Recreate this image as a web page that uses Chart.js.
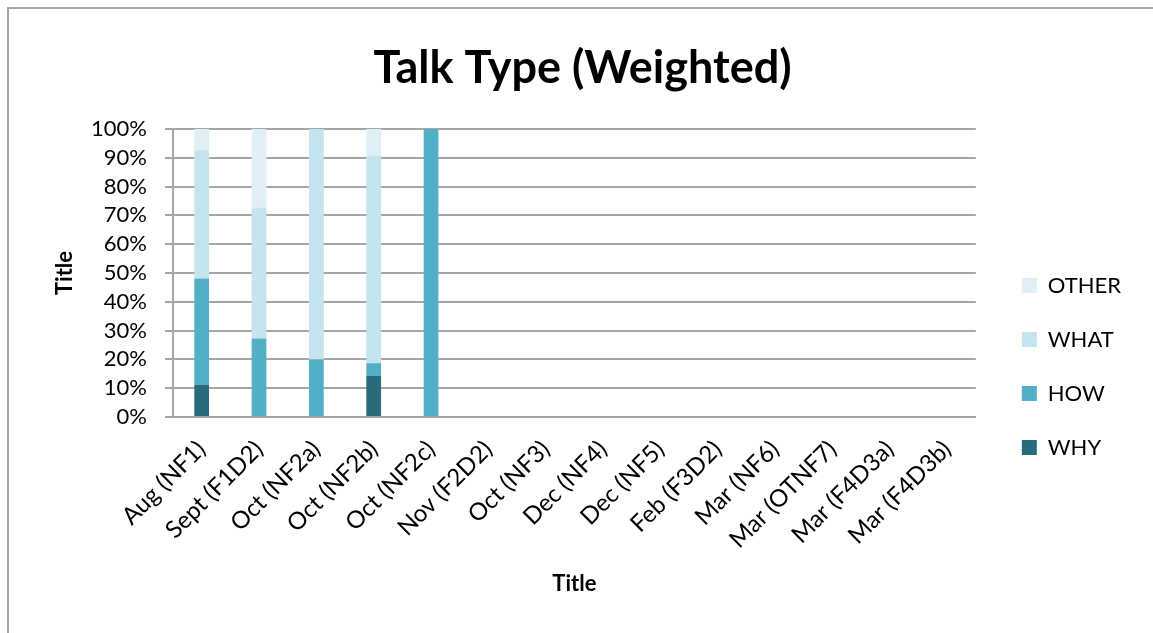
<!DOCTYPE html>
<html>
<head>
<meta charset="utf-8">
<title>Talk Type (Weighted)</title>
<script src="https://cdn.jsdelivr.net/npm/chart.js@4/dist/chart.umd.min.js"></script>
<style>
  html, body { margin: 0; padding: 0; background: #ffffff; overflow: hidden; }
  #frame {
    position: absolute; left: 7px; top: 7px; width: 1300px; height: 800px;
    border-left: 2px solid #a6a6a6; border-top: 2px solid #a6a6a6;
  }
  #wrap { position: absolute; left: 0; top: 0; width: 1153px; height: 633px; }
</style>
</head>
<body>
<div id="frame"></div>
<div id="wrap"><canvas id="chart" width="1153" height="633"></canvas></div>
<script>
// Sessions (x categories)
const categories = [
  'Aug (NF1)', 'Sept (F1D2)', 'Oct (NF2a)', 'Oct (NF2b)', 'Oct (NF2c)',
  'Nov (F2D2)', 'Oct (NF3)', 'Dec (NF4)', 'Dec (NF5)', 'Feb (F3D2)',
  'Mar (NF6)', 'Mar (OTNF7)', 'Mar (F4D3a)', 'Mar (F4D3b)'
];

// Share of talk per type, in percent of each session
const whyValues   = [11.1, 0,    0,    14.2, 0,   null, null, null, null, null, null, null, null, null];
const howValues   = [37.0, 27.3, 20.0, 4.5,  100, null, null, null, null, null, null, null, null, null];
const whatValues  = [44.5, 45.4, 80.0, 72.1, 0,   null, null, null, null, null, null, null, null, null];
const otherValues = [7.4,  27.3, 0,    9.2,  0,   null, null, null, null, null, null, null, null, null];

// Y axis tick values (percent)
const yTicks = [0, 10, 20, 30, 40, 50, 60, 70, 80, 90, 100];

const seriesNames = ['WHY', 'HOW', 'WHAT', 'OTHER'];
const seriesColors = ['#276b7c', '#52afc7', '#c4e3ec', '#deeff6'];
const seriesValues = [whyValues, howValues, whatValues, otherValues];

const gridGrey = '#a6a6a6';
const FONT = 'Lato, "Open Sans", "DejaVu Sans", sans-serif';

// Moves the legend and the chart title after Chart.js has laid them out
const nudge = {
  id: 'nudge',
  afterLayout(chart, args, opts) {
    const lg = chart.legend;
    if (lg) {
      lg.left += opts.legendDx; lg.right += opts.legendDx;
      lg.top += opts.legendDy; lg.bottom += opts.legendDy;
    }
    const tb = chart.titleBlock;
    if (tb) { tb.left += opts.titleDx; tb.right += opts.titleDx; }
  }
};

Chart.defaults.font.family = FONT;
Chart.defaults.color = '#000000';

new Chart(document.getElementById('chart'), {
  type: 'bar',
  data: {
    labels: categories,
    datasets: seriesNames.map((name, i) => ({
      label: name,
      data: seriesValues[i],
      backgroundColor: seriesColors[i],
      borderWidth: 0,
      categoryPercentage: 1,
      barPercentage: 0.257
    }))
  },
  plugins: [nudge],
  options: {
    responsive: false,
    animation: false,
    devicePixelRatio: 1,
    layout: { padding: { left: 48, right: 36, top: 0, bottom: 0 } },
    plugins: {
      nudge: { legendDx: 14, legendDy: 50, titleDx: 0 },
      title: {
        display: true,
        text: 'Talk Type (Weighted)',
        color: '#000000',
        font: { family: FONT, size: 45, weight: 'bold', lineHeight: 1.2 },
        padding: { top: 41, bottom: 34 }
      },
      legend: {
        position: 'right',
        reverse: true,
        labels: {
          boxWidth: 15,
          boxHeight: 15,
          padding: 32,
          color: '#000000',
          font: { family: FONT, size: 22 }
        }
      },
      tooltip: { enabled: false }
    },
    scales: {
      x: {
        stacked: true,
        afterFit(scale) { scale.height = 216; },
        grid: { display: false },
        border: { display: true, color: gridGrey, width: 2 },
        ticks: {
          autoSkip: false,
          maxRotation: 45,
          minRotation: 45,
          padding: 10,
          color: '#000000',
          font: { family: FONT, size: 24 }
        },
        title: {
          display: true,
          text: 'Title',
          color: '#000000',
          font: { family: FONT, size: 22, weight: 'bold', lineHeight: 1.2 },
          padding: { top: 3, bottom: 36 }
        }
      },
      y: {
        stacked: true,
        min: 0,
        max: 100,
        afterBuildTicks(scale) { scale.ticks = yTicks.map(v => ({ value: v })); },
        afterFit(scale) { scale.width = 125; },
        grid: { color: gridGrey, lineWidth: 2, tickLength: 8, drawTicks: true },
        border: { display: true, color: gridGrey, width: 2 },
        ticks: {
          autoSkip: false,
          padding: 18,
          color: '#000000',
          font: { family: FONT, size: 22 },
          callback: v => v + '%'
        },
        title: {
          display: true,
          text: 'Title',
          color: '#000000',
          font: { family: FONT, size: 22, weight: 'bold', lineHeight: 1.2 },
          padding: { top: 4, bottom: 4 }
        }
      }
    }
  }
});
</script>
</body>
</html>
